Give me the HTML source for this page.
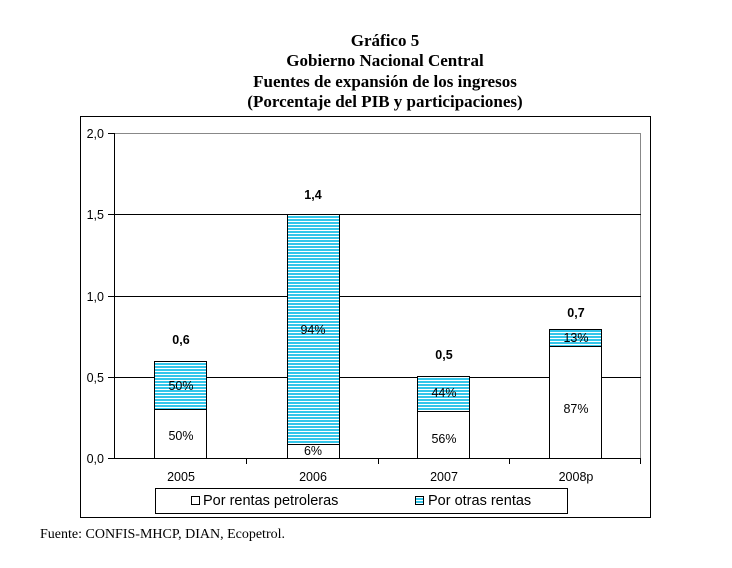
<!DOCTYPE html>
<html><head><meta charset="utf-8"><style>
body{margin:0;background:#fff;width:732px;height:568px;overflow:hidden}
svg{display:block}
.t{font-family:"Liberation Serif",serif;font-weight:bold;font-size:17px;text-anchor:middle}
.a{font-family:"Liberation Sans",sans-serif;font-size:12.5px}
.b{font-family:"Liberation Sans",sans-serif;font-size:12.5px;font-weight:bold;text-anchor:middle}
</style></head><body>
<svg width="732" height="568" xmlns="http://www.w3.org/2000/svg">
<defs><pattern id="p" width="4" height="3" patternUnits="userSpaceOnUse"><rect width="4" height="3" fill="#fff"/><rect width="4" height="2" fill="#33c6ea"/></pattern></defs>
<text class="t" x="385" y="46">Gráfico 5</text>
<text class="t" x="385" y="66">Gobierno Nacional Central</text>
<text class="t" x="385" y="87">Fuentes de expansión de los ingresos</text>
<text class="t" x="385" y="107">(Porcentaje del PIB y participaciones)</text>
<rect x="80.5" y="116.5" width="570" height="401" fill="none" stroke="#000"/>
<line x1="114" y1="133.5" x2="641" y2="133.5" stroke="#888"/>
<line x1="640.5" y1="133" x2="640.5" y2="459" stroke="#888"/>
<g stroke="#000">
<line x1="114" y1="214.5" x2="641" y2="214.5"/>
<line x1="114" y1="296.5" x2="641" y2="296.5"/>
<line x1="114" y1="377.5" x2="641" y2="377.5"/>
</g>
<g stroke="#000">
<rect x="154.5" y="409.5" width="52" height="49" fill="#fff"/>
<rect x="154.5" y="361.5" width="52" height="48" fill="url(#p)"/>
<rect x="287.5" y="444.5" width="52" height="14" fill="#fff"/>
<rect x="287.5" y="214.5" width="52" height="230" fill="url(#p)"/>
<rect x="417.5" y="411.5" width="52" height="47" fill="#fff"/>
<rect x="417.5" y="376.5" width="52" height="35" fill="url(#p)"/>
<rect x="549.5" y="346.5" width="52" height="112" fill="#fff"/>
<rect x="549.5" y="329.5" width="52" height="17" fill="url(#p)"/>
<line x1="114.5" y1="133" x2="114.5" y2="459"/>
<line x1="108" y1="458.5" x2="641" y2="458.5"/>
<line x1="108" y1="133.5" x2="114" y2="133.5"/>
<line x1="108" y1="214.5" x2="114" y2="214.5"/>
<line x1="108" y1="296.5" x2="114" y2="296.5"/>
<line x1="108" y1="377.5" x2="114" y2="377.5"/>
<line x1="246.5" y1="458" x2="246.5" y2="464"/>
<line x1="378.5" y1="458" x2="378.5" y2="464"/>
<line x1="509.5" y1="458" x2="509.5" y2="464"/>
<line x1="640.5" y1="458" x2="640.5" y2="464"/>
</g>
<g class="a" text-anchor="end">
<text x="104" y="138">2,0</text><text x="104" y="219">1,5</text><text x="104" y="301">1,0</text><text x="104" y="382">0,5</text><text x="104" y="463">0,0</text>
</g>
<g class="a" text-anchor="middle">
<text x="181" y="481">2005</text><text x="313" y="481">2006</text><text x="444" y="481">2007</text><text x="576" y="481">2008p</text>
<text x="181" y="390">50%</text><text x="181" y="440">50%</text>
<text x="313" y="334">94%</text><text x="313" y="455">6%</text>
<text x="444" y="397">44%</text><text x="444" y="443">56%</text>
<text x="576" y="342">13%</text><text x="576" y="413">87%</text>
</g>
<g class="b"><text x="181" y="344">0,6</text><text x="313" y="199">1,4</text><text x="444" y="359">0,5</text><text x="576" y="317">0,7</text></g>
<rect x="155.5" y="488.5" width="412" height="25" fill="#fff" stroke="#000"/>
<rect x="191.5" y="496.5" width="8" height="8" fill="#fff" stroke="#000"/>
<text class="a" x="203" y="505" style="font-size:14.5px">Por rentas petroleras</text>
<rect x="415.5" y="496.5" width="8" height="8" fill="url(#p)" stroke="#000"/>
<text class="a" x="428" y="505" style="font-size:14.5px">Por otras rentas</text>
<text x="40" y="538" style="font-family:'Liberation Serif',serif;font-size:14px">Fuente: CONFIS-MHCP, DIAN, Ecopetrol.</text>
</svg>
</body></html>
